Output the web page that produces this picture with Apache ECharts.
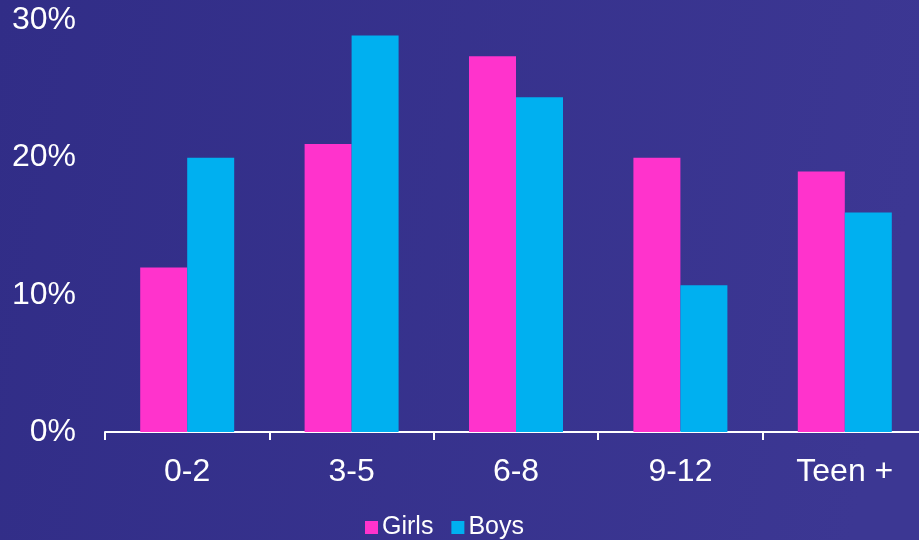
<!DOCTYPE html>
<html>
<head>
<meta charset="utf-8">
<script src="https://cdn.jsdelivr.net/npm/echarts@6/dist/echarts.min.js"></script>
<style>
html,body{margin:0;padding:0;background:#35308b;}
#c{width:919px;height:540px;}
</style>
</head>
<body>
<div id="c"></div>
<script>
var categories = ['0-2', '3-5', '6-8', '9-12', 'Teen +'];
var girls = [12.0, 21.0, 27.4, 20.0, 19.0];
var boys = [20.0, 28.9, 24.4, 10.7, 16.0];
var seriesNames = ['Girls', 'Boys'];

var chart = echarts.init(document.getElementById('c'));
var font = 'Liberation Sans, Arial, sans-serif';
chart.setOption({
  animation: false,
  backgroundColor: {
    type: 'linear', x: 0, y: 0, x2: 1, y2: 0.3,
    colorStops: [{offset: 0, color: '#312d87'}, {offset: 1, color: '#3c3793'}]
  },
  grid: {left: 105, top: 20.5, width: 822, height: 411.5, containLabel: false, outerBoundsMode: 'none'},
  legend: {
    data: seriesNames,
    left: 360, top: 510,
    itemWidth: 13, itemHeight: 13, itemGap: 18,
    icon: 'rect',
    textStyle: {color: '#ffffff', fontSize: 25, fontFamily: font, padding: [0, 0, 0, -1]}
  },
  xAxis: {
    type: 'category',
    data: categories,
    axisLine: {show: true, lineStyle: {color: '#ffffff', width: 2}},
    axisTick: {show: true, length: 8, lineStyle: {color: '#ffffff', width: 2}},
    axisLabel: {color: '#ffffff', fontSize: 32, fontFamily: font, margin: 24}
  },
  yAxis: {
    type: 'value',
    min: 0, max: 30, interval: 10,
    splitLine: {show: false},
    axisLine: {show: false},
    axisTick: {show: false},
    axisLabel: {color: '#ffffff', fontSize: 32, fontFamily: font, margin: 29, padding: [6, 0, 0, 0], formatter: '{value}%'}
  },
  series: [
    {name: seriesNames[0], type: 'bar', data: girls, barWidth: 47, barGap: '0%',
     itemStyle: {color: '#ff33cc'}},
    {name: seriesNames[1], type: 'bar', data: boys, barWidth: 47, barGap: '0%',
     itemStyle: {color: '#00b0f0'}}
  ]
});
</script>
</body>
</html>
